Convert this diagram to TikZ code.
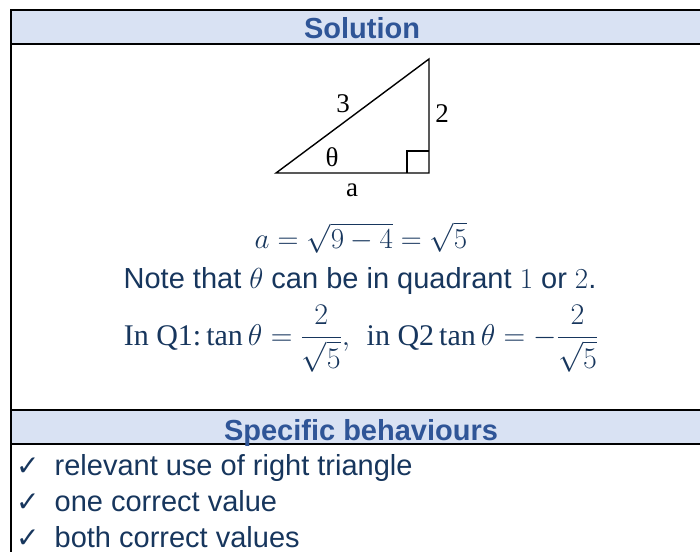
\RequirePackage{fix-cm}
\documentclass[tikz,border=0pt]{standalone}
\usepackage{amsmath}
\usepackage{fontspec}
\setmainfont{Liberation Sans}
\setmathrm{Liberation Serif}
\newfontfamily\trifont{Liberation Serif}
\newfontfamily\chkfont{DejaVu Sans}
\definecolor{hdrfill}{HTML}{D9E2F3}
\definecolor{hdrtext}{HTML}{2F5597}
\definecolor{bodytext}{HTML}{17365D}
\newcommand{\chk}{{\chkfont\fontsize{28}{30}\selectfont ✓}\kern15pt}
\begin{document}
\begin{tikzpicture}[x=1pt,y=-1pt,
  rule/.style={line width=2pt,black},
  hdr/.style={font=\fontsize{29}{34}\selectfont\bfseries,text=hdrtext,anchor=base,inner sep=0pt},
  body/.style={font=\fontsize{29}{34}\selectfont,text=bodytext,anchor=base,inner sep=0pt},
  item/.style={font=\fontsize{29}{34}\selectfont,text=bodytext,anchor=base west,inner sep=0pt},
  tri/.style={line width=1.4pt,black},
  trilab/.style={font=\trifont\fontsize{27}{30}\selectfont,inner sep=0pt}]
\useasboundingbox (0,0) rectangle (700,552);
% header bands
\fill[hdrfill] (11,10) rectangle (700,43.5);
\fill[hdrfill] (11,410) rectangle (700,444);
% rules
\draw[rule] (11,10) -- (700,10);
\draw[rule] (11,43.5) -- (700,43.5);
\draw[rule] (11,410) -- (700,410);
\draw[rule] (11,444) -- (700,444);
\draw[rule] (11,9) -- (11,552);
% headers
\node[hdr] (sol) at (362,38) {Solution};
\node[hdr] (spec) at (361,440) {Specific behaviours};
% triangle
\coordinate (A) at (276,173);
\coordinate (B) at (429,173);
\coordinate (C) at (429,59);
\draw[tri,line join=miter] (A) -- (B) -- (C) -- cycle;
\draw[line width=1.2pt] (407,173) -- (407,151) -- (429,151);
\node[trilab] (l3) at (343,104) {3};
\node[trilab] (l2) at (442,114) {2};
\node[trilab] (lt) at (332,157) {θ};
\node[trilab] (la) at (352,190) {a};
% formulas
\node[body] (f1) at (361,248) {$a=\sqrt{9-4}=\sqrt{5}$};
\node[body] (f2) at (360,288) {Note that $\theta$ can be in quadrant $1$ or $2$.};
\node[body,font=\fontsize{30}{34}\selectfont] (f3) at (361,345) {{\trifont In Q1:}\,$\tan\theta=\dfrac{2}{\sqrt{5}},$\ \ {\trifont in Q2}\,$\tan\theta=-\dfrac{2}{\sqrt{5}}$};
% items
\node[item] (i1) at (16,475) {\chk relevant use of right triangle};
\node[item] (i2) at (16,511) {\chk one correct value};
\node[item] (i3) at (16,547) {\chk both correct values};
\end{tikzpicture}
\end{document}
